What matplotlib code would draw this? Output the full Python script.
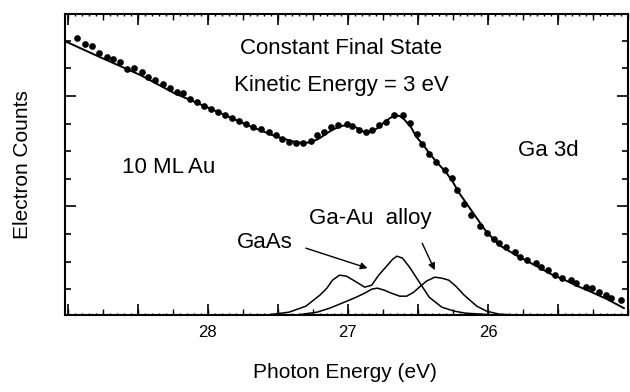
import numpy as np
import matplotlib
matplotlib.use("Agg")
import matplotlib.pyplot as plt
from matplotlib.ticker import MultipleLocator, FixedLocator, FuncFormatter

plt.rcParams['font.family'] = ['Liberation Sans', 'DejaVu Sans']

# CFS spectrum, Ga 3d, 10 ML Au on GaAs (photon energy in eV, counts in arb. units)
data_energy = [28.93, 28.88, 28.83, 28.78, 28.72, 28.68, 28.63, 28.58, 28.53, 28.47,
               28.43, 28.38, 28.32, 28.27, 28.22, 28.18, 28.13, 28.08, 28.03, 27.98,
               27.93, 27.88, 27.83, 27.78, 27.73, 27.68, 27.62, 27.56, 27.51, 27.47,
               27.42, 27.37, 27.32, 27.26, 27.22, 27.17, 27.12, 27.07, 27.01, 26.97,
               26.92, 26.87, 26.83, 26.78, 26.73, 26.67, 26.61, 26.56, 26.51, 26.47,
               26.42, 26.37, 26.31, 26.26, 26.22, 26.17, 26.12, 26.06, 26.01, 25.96,
               25.92, 25.87, 25.81, 25.77, 25.72, 25.66, 25.62, 25.57, 25.52, 25.47,
               25.41, 25.37, 25.30, 25.26, 25.21, 25.16, 25.12, 25.05]
data_counts = [277, 271, 269, 262, 258, 256, 253, 246, 247, 243,
               238, 235, 231, 227, 223, 222, 216, 213, 209, 206,
               203, 200, 197, 194, 191, 188, 186, 183, 180, 176,
               173, 172, 172, 174, 180, 183, 188, 190, 191, 189,
               185, 183, 185, 190, 193, 200, 200, 192, 181, 171,
               161, 153, 145, 137, 125, 111, 100, 89, 82, 76,
               72, 68, 63, 58, 55, 52, 48, 45, 40, 37,
               35, 32, 28, 27, 23, 20, 17, 15]

# fitted total
fit_energy = [29.02, 28.77, 28.48, 28.24, 27.99, 27.70, 27.52, 27.40, 27.32, 27.26,
              27.20, 27.15, 27.10, 27.05, 27.01, 26.96, 26.92, 26.87, 26.82, 26.78,
              26.74, 26.70, 26.66, 26.63, 26.60, 26.55, 26.51, 26.46, 26.42, 26.36,
              26.30, 26.25, 26.21, 26.16, 26.11, 26.06, 26.01, 25.96, 25.92, 25.86,
              25.80, 25.72, 25.64, 25.55, 25.45, 25.36, 25.26, 25.15, 25.03]
fit_counts = [274, 258, 240, 222, 207, 189, 179, 174, 172, 173,
              177, 182, 186, 189, 190, 189, 186, 182, 184, 188,
              193, 197, 200, 199, 196, 188, 178, 170, 162, 152,
              143, 133, 123, 113, 103, 93, 83, 76, 70, 65,
              60, 54, 48, 41, 35, 29, 23, 16, 7]

# GaAs component
gaas_energy = [27.56, 27.42, 27.30, 27.20, 27.15, 27.11, 27.06, 27.01, 26.95, 26.88,
               26.83, 26.78, 26.73, 26.68, 26.65, 26.61, 26.56, 26.49, 26.42, 26.33,
               26.24, 26.16, 25.99, 25.78]
gaas_counts = [0.5, 3, 9, 20, 27, 35, 40, 39, 34, 28,
               30, 40, 48, 56, 59, 57, 48, 33, 18, 8,
               4, 2, 0.5, 0]

# Ga-Au alloy component
alloy_energy = [27.35, 27.22, 27.13, 27.06, 26.99, 26.94, 26.88, 26.83, 26.79, 26.74,
                26.69, 26.63, 26.58, 26.53, 26.49, 26.44, 26.38, 26.33, 26.28, 26.23,
                26.17, 26.08, 26.01, 25.92, 25.78]
alloy_counts = [0.5, 3, 7, 11, 15, 18, 22, 26, 27, 25,
                22, 19, 19, 23, 28, 34, 38, 37, 35, 29,
                20, 9, 4, 1, 0]

x_labelled = [28, 27, 26]
y_short = [26 + 27.6 * k for k in (0, 1, 2, 4, 5, 6, 8, 9)]
y_long = [26 + 27.6 * k for k in (3, 7)]

fig = plt.figure(figsize=(6.3, 3.92), dpi=100)
ax = fig.add_axes([0.103, 0.196, 0.894, 0.768])

ax.plot(fit_energy, fit_counts, color='black', lw=1.4)
ax.plot(data_energy, data_counts, 'o', color='black', ms=3.8, mec='black')
ax.plot(gaas_energy, gaas_counts, color='black', lw=1.1)
ax.plot(alloy_energy, alloy_counts, color='black', lw=1.1)

ax.set_xlim(29.02, 25.0)
ax.set_ylim(0, 301)

for s in ax.spines.values():
    s.set_linewidth(1.5)

# x ticks: long every 0.5, medium every 0.25, tiny every 0.05
ax.xaxis.set_major_locator(MultipleLocator(0.5))
ax.xaxis.set_minor_locator(MultipleLocator(0.05))
ax.xaxis.set_major_formatter(FuncFormatter(
    lambda v, p: f"{v:.0f}" if any(abs(v - t) < 1e-6 for t in x_labelled) else ""))
ax.tick_params(axis='x', which='major', direction='in', length=8, width=1.2,
               top=True, labelsize=12, pad=7)
ax.tick_params(axis='x', which='minor', direction='in', length=1.5, width=1,
               top=True)
for side in ('bottom', 'top'):
    sec = ax.secondary_xaxis(side)
    sec.xaxis.set_major_locator(MultipleLocator(0.25))
    sec.tick_params(direction='in', length=4, width=1, labelbottom=False,
                    labeltop=False)
    sec.spines[side].set_visible(False)

ax.yaxis.set_major_locator(FixedLocator(y_long))
ax.yaxis.set_minor_locator(FixedLocator(y_short))
ax.tick_params(axis='y', which='major', direction='in', length=8, width=1.2,
               right=True, labelleft=False)
ax.tick_params(axis='y', which='minor', direction='in', length=4, width=1.2,
               right=True)

fs = 16
ax.text(27.05, 267, "Constant Final State", ha='center', va='center', fontsize=fs)
ax.text(27.05, 230, "Kinetic Energy = 3 eV", ha='center', va='center', fontsize=fs)
ax.text(28.28, 148, "10 ML Au", ha='center', va='center', fontsize=fs)
ax.text(25.57, 165, "Ga 3d", ha='center', va='center', fontsize=fs)
ax.text(27.59, 73, "GaAs", ha='center', va='center', fontsize=fs)
ax.text(26.84, 97, "Ga-Au  alloy", ha='center', va='center', fontsize=fs)

arrow = dict(arrowstyle='-|>', color='black', lw=1, mutation_scale=10,
             shrinkA=0, shrinkB=0)
ax.annotate("", xy=(26.86, 47), xytext=(27.30, 67), arrowprops=arrow)
ax.annotate("", xy=(26.38, 45), xytext=(26.47, 72), arrowprops=arrow)

fig.text(0.035, 0.579, "Electron Counts", rotation=90, ha='center', va='center',
         fontsize=15)
fig.text(0.548, 0.051, "Photon Energy (eV)", ha='center', va='center', fontsize=15)

fig.savefig("out.png", dpi=100)
